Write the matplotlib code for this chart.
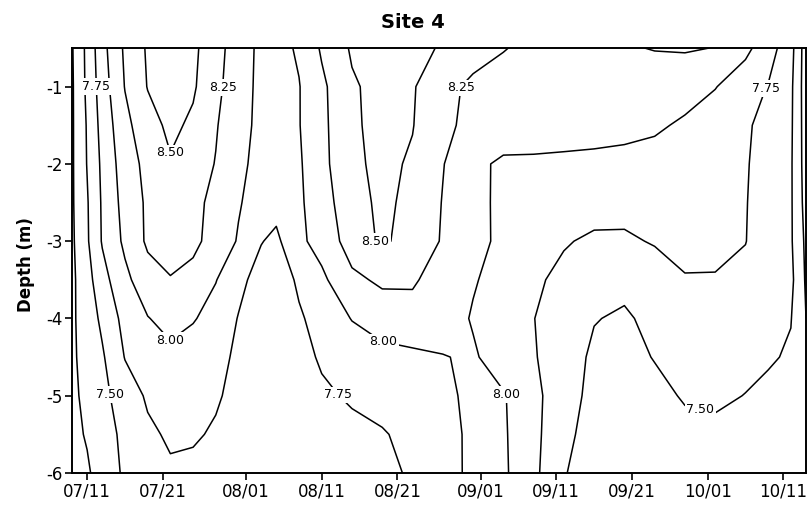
import numpy as np
import matplotlib
matplotlib.use("Agg")
import matplotlib.pyplot as plt
import matplotlib.dates as mdates

plt.rcParams['font.family'] = ['DejaVu Sans']
plt.rcParams['axes.unicode_minus'] = False

# ---------------- data ----------------
sample_dates = ["2021-07-09", "2021-07-11", "2021-07-13", "2021-07-16", "2021-07-19",
                "2021-07-22", "2021-07-25", "2021-07-28", "2021-07-31", "2021-08-03",
                "2021-08-05", "2021-08-08", "2021-08-11", "2021-08-15", "2021-08-19",
                "2021-08-23", "2021-08-27", "2021-08-31", "2021-09-04", "2021-09-08",
                "2021-09-12", "2021-09-16", "2021-09-20", "2021-09-24", "2021-09-28",
                "2021-10-02", "2021-10-06", "2021-10-09", "2021-10-12", "2021-10-14"]

depths = [-0.5, -1.0, -1.5, -2.0, -2.5, -3.0, -3.5, -4.0, -4.5, -5.0, -5.5, -6.0]

val_d0_5 = [7.23, 7.56, 7.92, 8.29, 8.53, 8.65, 8.55, 8.35, 8.11, 7.95, 7.92, 8.03, 8.28, 8.53, 8.61,
            8.56, 8.48, 8.37, 8.26, 8.20, 8.19, 8.20, 8.23, 8.26, 8.27, 8.245, 8.06, 7.86, 7.59, 7.12]
val_d1_0 = [7.22, 7.55, 7.88, 8.26, 8.51, 8.60, 8.53, 8.32, 8.09, 7.95, 7.91, 7.99, 8.20, 8.47, 8.58,
            8.52, 8.34, 8.19, 8.17, 8.15, 8.14, 8.14, 8.14, 8.13, 8.11, 8.01, 7.86, 7.74, 7.55, 7.12]
val_d1_5 = [7.22, 7.52, 7.84, 8.18, 8.41, 8.55, 8.46, 8.27, 8.07, 7.95, 7.90, 7.99, 8.19, 8.46, 8.58,
            8.51, 8.29, 8.20, 8.17, 8.15, 8.13, 8.11, 8.08, 8.04, 7.96, 7.87, 7.78, 7.68, 7.54, 7.13]
val_d2_0 = [7.22, 7.51, 7.80, 8.13, 8.32, 8.48, 8.37, 8.24, 8.05, 7.93, 7.88, 7.97, 8.18, 8.45, 8.56,
            8.47, 8.26, 8.07, 7.95, 7.95, 7.94, 7.93, 7.92, 7.90, 7.88, 7.84, 7.77, 7.65, 7.53, 7.14]
val_d2_5 = [7.22, 7.48, 7.78, 8.09, 8.29, 8.40, 8.31, 8.19, 8.02, 7.89, 7.83, 7.96, 8.14, 8.41, 8.55,
            8.44, 8.24, 8.08, 7.94, 7.90, 7.87, 7.85, 7.84, 7.83, 7.82, 7.80, 7.76, 7.65, 7.53, 7.16]
val_d3_0 = [7.21, 7.47, 7.77, 8.05, 8.29, 8.33, 8.31, 8.15, 7.98, 7.76, 7.70, 7.95, 8.09, 8.36, 8.54,
            8.40, 8.23, 8.07, 7.95, 7.86, 7.77, 7.71, 7.71, 7.77, 7.82, 7.81, 7.755, 7.64, 7.53, 7.20]
val_d3_5 = [7.20, 7.41, 7.66, 7.94, 8.15, 8.24, 8.17, 8.01, 7.81, 7.66, 7.61, 7.79, 7.95, 8.20, 8.29,
            8.28, 8.14, 8.02, 7.91, 7.79, 7.69, 7.60, 7.56, 7.62, 7.735, 7.735, 7.70, 7.65, 7.56, 7.22]
val_d4_0 = [7.21, 7.37, 7.55, 7.83, 7.99, 8.08, 8.02, 7.90, 7.74, 7.61, 7.56, 7.72, 7.84, 8.01, 8.12,
            8.16, 8.12, 7.98, 7.87, 7.755, 7.63, 7.51, 7.47, 7.56, 7.60, 7.62, 7.60, 7.56, 7.51, 7.25]
val_d4_5 = [7.21, 7.34, 7.47, 7.76, 7.85, 7.94, 7.87, 7.80, 7.72, 7.61, 7.56, 7.67, 7.78, 7.86, 7.92,
            7.95, 7.99, 8.03, 7.88, 7.77, 7.61, 7.46, 7.43, 7.51, 7.55, 7.57, 7.56, 7.53, 7.47, 7.30]
val_d5_0 = [7.20, 7.31, 7.43, 7.63, 7.78, 7.85, 7.81, 7.77, 7.70, 7.62, 7.60, 7.65, 7.71, 7.78, 7.84,
            7.90, 7.97, 8.03, 8.02, 7.82, 7.59, 7.44, 7.40, 7.44, 7.52, 7.54, 7.495, 7.44, 7.38, 7.30]
val_d5_5 = [7.19, 7.27, 7.39, 7.56, 7.71, 7.78, 7.77, 7.73, 7.68, 7.63, 7.62, 7.63, 7.65, 7.69, 7.73,
            7.82, 7.93, 8.04, 8.03, 7.82, 7.55, 7.42, 7.38, 7.40, 7.44, 7.45, 7.43, 7.40, 7.36, 7.30]
val_d6_0 = [7.15, 7.22, 7.35, 7.54, 7.65, 7.72, 7.71, 7.68, 7.65, 7.63, 7.62, 7.63, 7.65, 7.68, 7.71,
            7.77, 7.91, 8.05, 8.04, 7.81, 7.51, 7.42, 7.38, 7.38, 7.40, 7.41, 7.40, 7.38, 7.35, 7.30]

levels = [7.25, 7.50, 7.75, 8.00, 8.25, 8.50]

tick_dates = ["2021-07-11", "2021-07-21", "2021-08-01", "2021-08-11", "2021-08-21",
              "2021-09-01", "2021-09-11", "2021-09-21", "2021-10-01", "2021-10-11"]
depth_ticks = [-1, -2, -3, -4, -5, -6]

# where the contour labels sit (near their lines)
label_dates = ["2021-07-12", "2021-07-28", "2021-07-22", "2021-08-17", "2021-08-28", "2021-10-08",
               "2021-07-22", "2021-07-13", "2021-08-13", "2021-08-19", "2021-09-04", "2021-09-30"]
label_depths = [-1.0, -1.0, -1.88, -3.05, -1.0, -1.0, -4.32, -5.0, -5.0, -4.35, -5.0, -5.18]

title = "Site 4"
ylabel = "Depth (m)"
x_start, x_end = "2021-07-09", "2021-10-14"

# ---------------- figure ----------------
W, H = 809, 507
fig = plt.figure(figsize=(W / 100, H / 100), dpi=100)
ax = fig.add_axes([72 / W, 1 - 473 / H, (806 - 72) / W, (473 - 48) / H])

X = mdates.datestr2num(sample_dates)
Z = np.array([val_d0_5, val_d1_0, val_d1_5, val_d2_0, val_d2_5, val_d3_0,
              val_d3_5, val_d4_0, val_d4_5, val_d5_0, val_d5_5, val_d6_0])

cs = ax.contour(X, depths, Z, levels=levels, colors='black', linewidths=1.1)

pos = list(zip(mdates.datestr2num(label_dates), label_depths))
texts = ax.clabel(cs, fmt='%.2f', manual=pos, inline=False, fontsize=9)
for t in texts:
    t.set_rotation(0)
    t.set_bbox(dict(facecolor='white', edgecolor='none', pad=1.2))
    t.set_zorder(5)

ax.set_xlim(mdates.datestr2num(x_start), mdates.datestr2num(x_end))
ax.set_ylim(-6, -0.5)
ax.set_xticks(mdates.datestr2num(tick_dates))
ax.xaxis.set_major_formatter(mdates.DateFormatter('%m/%d'))
ax.set_yticks(depth_ticks)
ax.set_yticklabels([str(d) for d in depth_ticks])
ax.tick_params(direction='out', length=5, width=1.2, labelsize=12, pad=2)
for s in ax.spines.values():
    s.set_linewidth(1.4)

fig.text(26 / W, 1 - 265 / H, ylabel, rotation=90, ha='center', va='center',
         fontsize=12, fontweight='bold')
fig.text(413 / W, 1 - 23 / H, title, ha='center', va='center',
         fontsize=14, fontweight='bold')

fig.savefig("out.png", dpi=100)
